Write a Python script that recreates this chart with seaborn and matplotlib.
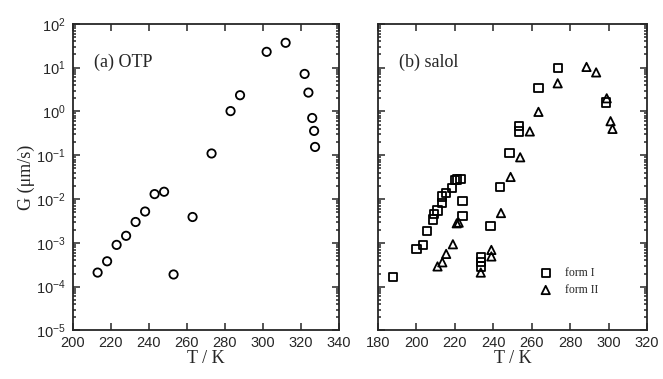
import numpy as np
import pandas as pd
import matplotlib
matplotlib.use('Agg')
import matplotlib.pyplot as plt
import seaborn as sns
from matplotlib.ticker import LogLocator, NullFormatter, MultipleLocator

# Données
otp_T = [213, 218, 223, 228, 233, 238, 243, 248, 253, 263, 273, 283, 288,
         302, 312, 322, 324, 326, 327, 327.5]
otp_G = [2.1e-4, 3.8e-4, 9e-4, 1.45e-3, 3.0e-3, 5.2e-3, 1.3e-2, 1.47e-2,
         1.9e-4, 3.9e-3, 0.11, 1.02, 2.35, 23, 37, 7.2, 2.7, 0.71, 0.36, 0.155]

form1_T = [188, 200, 203.5, 205.5, 208.5, 209, 211, 213.5, 213.5, 215.5,
           218.5, 220, 221, 223, 224, 224, 233.5, 233.5, 233.5, 238.5,
           243.5, 248.5, 253.5, 253.5, 263.5, 273.5, 298.5]
form1_G = [1.65e-4, 7.3e-4, 9e-4, 1.9e-3, 3.4e-3, 4.6e-3, 5.5e-3, 8.2e-3,
           1.15e-2, 1.4e-2, 1.8e-2, 2.7e-2, 2.8e-2, 2.9e-2, 9e-3, 4.1e-3,
           4.6e-4, 3.7e-4, 2.9e-4, 2.4e-3, 1.9e-2, 0.112, 0.47, 0.35, 3.4,
           10, 1.6]

form2_T = [211, 213.5, 215.5, 219, 221, 222, 233.5, 239, 239, 244, 249, 254,
           259, 263.5, 273.5, 288.5, 293.5, 299, 301, 302]
form2_G = [2.9e-4, 3.6e-4, 5.6e-4, 9.3e-4, 2.8e-3, 2.9e-3, 2.1e-4, 4.9e-4,
           6.9e-4, 4.8e-3, 3.2e-2, 9e-2, 0.35, 0.98, 4.4, 10.4, 7.8, 2.0,
           0.6, 0.4]

otp = pd.DataFrame({'T': otp_T, 'G': otp_G})
f1 = pd.DataFrame({'T': form1_T, 'G': form1_G})
f2 = pd.DataFrame({'T': form2_T, 'G': form2_G})

sns.set_style('ticks')
plt.rcParams['font.family'] = ['Liberation Sans', 'DejaVu Sans']
plt.rcParams['axes.linewidth'] = 1.3

fig = plt.figure(figsize=(6.63, 3.79), dpi=100)
ax1 = fig.add_axes([0.110, 0.128, 0.401, 0.809])
ax2 = fig.add_axes([0.570, 0.128, 0.406, 0.809])

mk = dict(facecolor='none', edgecolor='black', linewidth=1.3, s=36)

sns.scatterplot(data=otp, x='T', y='G', marker='o', ax=ax1, **mk)
sns.scatterplot(data=f1, x='T', y='G', marker='s', ax=ax2, label='form I', **mk)
sns.scatterplot(data=f2, x='T', y='G', marker='^', ax=ax2, label='form II', **mk)

serif = ['Liberation Serif', 'DejaVu Serif']

for ax, xmin, xmax in [(ax1, 200, 340), (ax2, 180, 320)]:
    ax.set_yscale('log')
    ax.set_ylim(1e-5, 1e2)
    ax.set_xlim(xmin, xmax)
    ax.xaxis.set_major_locator(MultipleLocator(20))
    ax.yaxis.set_major_locator(LogLocator(base=10, numticks=10))
    ax.yaxis.set_minor_locator(LogLocator(base=10, subs=np.arange(2, 10), numticks=20))
    ax.tick_params(which='both', direction='in', top=True, right=True,
                   labelsize=10.5, width=1.1)
    ax.tick_params(which='major', length=5)
    ax.tick_params(which='minor', length=2.5)
    ax.tick_params(axis='x', pad=4)
    ax.tick_params(axis='y', pad=5)
    ax.set_xlabel('T / K', family=serif, fontsize=13, labelpad=0)
    ax.set_ylabel('')

ax1.set_ylabel('G (\u03bcm/s)', family=serif, fontsize=13, labelpad=1)
ax2.yaxis.set_major_formatter(NullFormatter())
ax2.yaxis.set_minor_formatter(NullFormatter())

ax1.text(0.08, 0.86, '(a) OTP', transform=ax1.transAxes, family=serif, fontsize=13)
ax2.text(0.08, 0.86, '(b) salol', transform=ax2.transAxes, family=serif, fontsize=13)

leg = ax2.legend(loc='center left', bbox_to_anchor=(0.54, 0.16), frameon=False,
                 prop={'family': serif, 'size': 8.5}, handlelength=2,
                 handletextpad=0.6, labelspacing=0.45)

fig.savefig('out.png', dpi=100)
